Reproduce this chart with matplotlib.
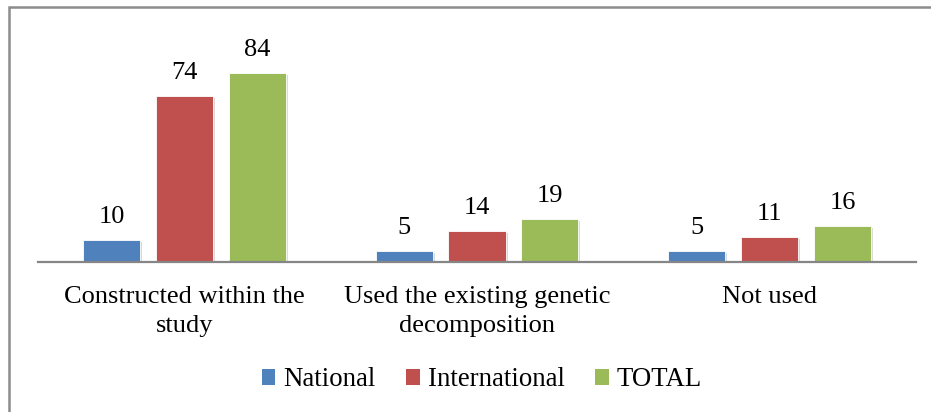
import matplotlib.pyplot as plt
from matplotlib.patches import Patch, Rectangle
import matplotlib.patheffects as pe

categories = ["Constructed within the\nstudy",
              "Used the existing genetic\ndecomposition",
              "Not used"]
series_names = ["National", "International", "TOTAL"]
national = [10, 5, 5]
international = [74, 14, 11]
total = [84, 19, 16]

colors = ["#4F81BD", "#C0504D", "#9BBB59"]

plt.rcParams["font.family"] = ["Liberation Serif", "DejaVu Serif"]

fig = plt.figure(figsize=(9.31, 4.12), dpi=100)
ax = fig.add_axes([38 / 931, 150 / 412, 878 / 931, 225 / 412])

width = 0.195
offset = 0.249
shadow = [pe.SimplePatchShadow(offset=(1.5, -1.5), alpha=0.18), pe.Normal()]
for i, (vals, col) in enumerate(zip([national, international, total], colors)):
    xs = [k + (i - 1) * offset for k in range(len(categories))]
    bars = ax.bar(xs, vals, width=width, color=col, edgecolor="white",
                  linewidth=0.6, path_effects=shadow, zorder=2)
    for b, v in zip(bars, vals):
        ax.annotate(str(v), (b.get_x() + b.get_width() / 2, v),
                    xytext=(0, 8.5), textcoords="offset points",
                    ha="center", va="bottom", fontsize=19)

ax.set_xlim(-0.5, 2.5)
ax.set_ylim(0, 100)
ax.set_xticks(range(len(categories)))
ax.set_xticklabels(categories, fontsize=19, linespacing=1.46)
ax.tick_params(axis="x", length=0, pad=17)
ax.set_yticks([])
for s in ["top", "right", "left"]:
    ax.spines[s].set_visible(False)
ax.spines["bottom"].set_color("#868686")
ax.spines["bottom"].set_linewidth(1.6)
ax.spines["bottom"].set_zorder(3)

handles = [Patch(facecolor=c, edgecolor="none") for c in colors]
fig.legend(handles, series_names, loc="center", bbox_to_anchor=(482 / 931, 32 / 412),
           ncol=3, frameon=False, fontsize=19.3, handlelength=0.5, handleheight=0.5,
           handletextpad=0.3, columnspacing=1.15)

# outer frame (left and top edges visible)
fig.patches.append(Rectangle((8.5 / 931, -0.1), 1.2, (412 - 7.5) / 412 + 0.1,
                             transform=fig.transFigure, fill=False,
                             edgecolor="#8c8c8c", linewidth=1.8))

fig.savefig("out.png", dpi=100)
